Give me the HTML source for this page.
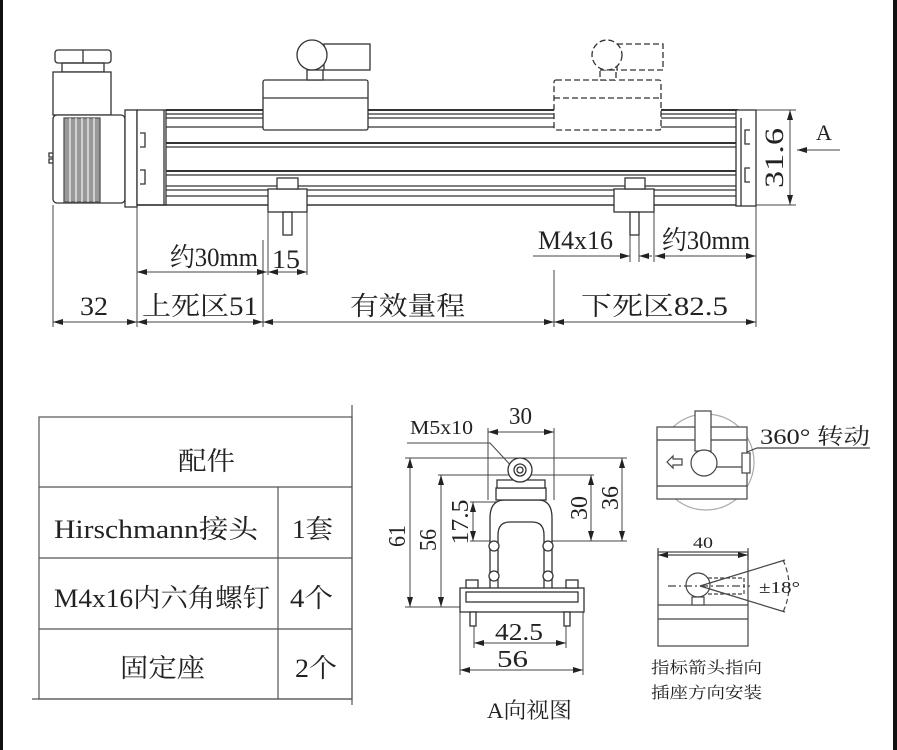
<!DOCTYPE html>
<html><head><meta charset="utf-8"><style>
html,body{margin:0;padding:0;background:#fff;width:897px;height:750px;overflow:hidden}
svg{display:block}
text{font-family:"Liberation Serif","Noto Serif CJK SC","Noto Sans CJK SC",serif;fill:#222}
</style></head><body>
<svg width="897" height="750" viewBox="0 0 897 750" xmlns="http://www.w3.org/2000/svg">
<defs>
<marker id="ar" viewBox="0 0 10 6" refX="10" refY="3" markerWidth="10" markerHeight="6" orient="auto-start-reverse" markerUnits="userSpaceOnUse"><path d="M0,0 L10,3 L0,6 z" fill="#222"/></marker>
</defs>
<rect x="0" y="0" width="3" height="750" fill="#111"/>
<rect x="893" y="0" width="4" height="750" fill="#111"/>
<g stroke="#333" stroke-width="1.3" fill="none">
<rect x="55" y="50" width="56" height="13" rx="3" fill="#fff"/>
<line x1="83" y1="50" x2="83" y2="63"/>
<rect x="62" y="63" width="42" height="9"/>
<rect x="53" y="72" width="58" height="43" fill="#fff"/>
<rect x="53" y="115" width="72" height="88" rx="4" fill="#fff"/>
<rect x="64" y="118" width="36" height="84" fill="#999" stroke="#555"/>
<line x1="70" y1="118" x2="70" y2="202" stroke="#eee"/><line x1="76" y1="118" x2="76" y2="202" stroke="#eee"/>
<line x1="82" y1="118" x2="82" y2="202" stroke="#eee"/><line x1="88" y1="118" x2="88" y2="202" stroke="#eee"/>
<line x1="94" y1="118" x2="94" y2="202" stroke="#eee"/>
<path d="M53,153 h-4 v4 h4 M53,159 h-4 v4 h4"/>
<rect x="125" y="110" width="12" height="97" fill="#fff"/>
<rect x="137" y="110" width="29" height="95" fill="#fff"/>
<path d="M140,133 h5 v14 h-5 M140,170 h5 v14 h-5"/>
<line x1="164" y1="110" x2="164" y2="205"/>
<line x1="166" y1="110" x2="738" y2="110" stroke-width="2"/>
<line x1="166" y1="114" x2="738" y2="114"/>
<line x1="166" y1="118" x2="738" y2="118"/>
<line x1="166" y1="127" x2="738" y2="127"/>
<line x1="166" y1="143" x2="738" y2="143" stroke-width="2"/>
<line x1="166" y1="147" x2="738" y2="147"/>
<line x1="166" y1="171" x2="738" y2="171" stroke-width="2"/>
<line x1="166" y1="175" x2="738" y2="175"/>
<line x1="166" y1="186" x2="738" y2="186"/>
<line x1="166" y1="190" x2="738" y2="190"/>
<line x1="166" y1="196" x2="738" y2="196"/>
<line x1="137" y1="205" x2="738" y2="205" stroke-width="1.6"/>
<rect x="736" y="110" width="20" height="96" fill="#fff"/>
<line x1="741" y1="118" x2="741" y2="206"/>
<path d="M750,130 h-5 v14 h5 M750,168 h-5 v14 h5"/>
<rect x="263" y="80" width="105" height="50" rx="2" fill="#fff"/>
<line x1="263" y1="98" x2="368" y2="98"/>
<rect x="307" y="70" width="16" height="10" fill="#fff"/>
<rect x="324" y="44" width="46" height="26" fill="#fff"/>
<circle cx="312" cy="55" r="15" fill="#fff"/>
<g stroke-dasharray="6,3">
<rect x="554" y="80" width="107" height="50" rx="2" fill="#fff"/>
<line x1="554" y1="98" x2="661" y2="98"/>
<rect x="600" y="70" width="16" height="10" fill="#fff"/>
<rect x="617" y="44" width="46" height="26" fill="#fff"/>
<circle cx="607" cy="55" r="15" fill="#fff"/>
</g>
<rect x="268" y="189" width="39" height="23" fill="#fff"/><rect x="277" y="178" width="21" height="11" fill="#fff"/><rect x="283" y="212" width="9" height="23"/>
<rect x="614" y="189" width="40" height="23" fill="#fff"/><rect x="625" y="178" width="20" height="11" fill="#fff"/><rect x="630" y="212" width="9" height="23"/>
</g>
<g stroke="#444" stroke-width="1" fill="none">
<line x1="53" y1="205" x2="53" y2="327"/>
<line x1="137" y1="207" x2="137" y2="327"/>
<line x1="263" y1="240" x2="263" y2="327"/>
<line x1="268" y1="212" x2="268" y2="275"/>
<line x1="307" y1="212" x2="307" y2="275"/>
<line x1="554" y1="270" x2="554" y2="327"/>
<line x1="756" y1="206" x2="756" y2="327"/>
<line x1="630" y1="235" x2="630" y2="262"/><line x1="639" y1="235" x2="639" y2="262"/>
<line x1="654" y1="212" x2="654" y2="262"/>
<line x1="137" y1="272" x2="267" y2="272" marker-start="url(#ar)" marker-end="url(#ar)"/>
<line x1="268" y1="272" x2="307" y2="272" marker-start="url(#ar)" marker-end="url(#ar)"/>
<line x1="533" y1="256" x2="630" y2="256" marker-end="url(#ar)"/>
<line x1="639" y1="256" x2="652" y2="256" marker-start="url(#ar)"/>
<line x1="655" y1="256" x2="756" y2="256" marker-start="url(#ar)" marker-end="url(#ar)"/>
<line x1="53" y1="322" x2="137" y2="322" marker-start="url(#ar)" marker-end="url(#ar)"/>
<line x1="137" y1="322" x2="263" y2="322" marker-start="url(#ar)" marker-end="url(#ar)"/>
<line x1="263" y1="322" x2="554" y2="322" marker-start="url(#ar)" marker-end="url(#ar)"/>
<line x1="554" y1="322" x2="756" y2="322" marker-start="url(#ar)" marker-end="url(#ar)"/>
<line x1="756" y1="110" x2="796" y2="110"/><line x1="756" y1="205" x2="796" y2="205"/>
<line x1="790" y1="110" x2="790" y2="205" marker-start="url(#ar)" marker-end="url(#ar)"/>
<line x1="840" y1="150" x2="797" y2="150" marker-end="url(#ar)"/>
</g>
<g font-size="26" lengthAdjust="spacingAndGlyphs">
<text x="170" y="266" textLength="88" lengthAdjust="spacingAndGlyphs">约30mm</text>
<text x="272" y="268" textLength="28" lengthAdjust="spacingAndGlyphs">15</text>
<text x="538" y="249" textLength="75" lengthAdjust="spacingAndGlyphs">M4x16</text>
<text x="662" y="249" textLength="88" lengthAdjust="spacingAndGlyphs">约30mm</text>
<text x="80" y="315" textLength="28" lengthAdjust="spacingAndGlyphs">32</text>
<text x="142" y="315" textLength="116" lengthAdjust="spacingAndGlyphs">上死区51</text>
<text x="350" y="315" textLength="115" lengthAdjust="spacingAndGlyphs">有效量程</text>
<text x="581" y="315" textLength="147" lengthAdjust="spacingAndGlyphs">下死区82.5</text>
<text x="816" y="140" font-size="22">A</text>
<text transform="translate(783,158) rotate(-90)" text-anchor="middle" textLength="60" lengthAdjust="spacingAndGlyphs">31.6</text>
</g>
<g stroke="#555" stroke-width="1.2" fill="none">
<rect x="39" y="417" width="313" height="282"/>
<line x1="352" y1="405" x2="352" y2="705"/><line x1="32" y1="699" x2="352" y2="699"/>
<line x1="39" y1="487" x2="352" y2="487"/><line x1="39" y1="558" x2="352" y2="558"/><line x1="39" y1="629" x2="352" y2="629"/>
<line x1="278" y1="487" x2="278" y2="699"/>
</g>
<g font-size="26">
<text x="178" y="470" textLength="57" lengthAdjust="spacingAndGlyphs">配件</text>
<text x="54" y="538" textLength="204" lengthAdjust="spacingAndGlyphs">Hirschmann接头</text>
<text x="292" y="538" textLength="41" lengthAdjust="spacingAndGlyphs">1套</text>
<text x="54" y="607" textLength="216" lengthAdjust="spacingAndGlyphs">M4x16内六角螺钉</text>
<text x="290" y="607" textLength="43" lengthAdjust="spacingAndGlyphs">4个</text>
<text x="120" y="677" textLength="85" lengthAdjust="spacingAndGlyphs">固定座</text>
<text x="295" y="677" textLength="42" lengthAdjust="spacingAndGlyphs">2个</text>
</g>
<g stroke="#444" stroke-width="1" fill="none">
<line x1="488" y1="428" x2="488" y2="500"/><line x1="554" y1="428" x2="554" y2="500"/>
<line x1="488" y1="432" x2="554" y2="432" marker-start="url(#ar)" marker-end="url(#ar)"/>
<path d="M407,443 H490 L515,470"/>
<line x1="405" y1="458" x2="627" y2="458"/>
<line x1="438" y1="475" x2="594" y2="475"/>
<line x1="470" y1="502" x2="498" y2="502"/>
<line x1="470" y1="541" x2="627" y2="541"/>
<line x1="405" y1="607" x2="480" y2="607"/>
<line x1="410" y1="458" x2="410" y2="607" marker-start="url(#ar)" marker-end="url(#ar)"/>
<line x1="441" y1="475" x2="441" y2="607" marker-start="url(#ar)" marker-end="url(#ar)"/>
<line x1="473" y1="502" x2="473" y2="541" marker-start="url(#ar)" marker-end="url(#ar)"/>
<line x1="591" y1="475" x2="591" y2="541" marker-start="url(#ar)" marker-end="url(#ar)"/>
<line x1="622" y1="458" x2="622" y2="541" marker-start="url(#ar)" marker-end="url(#ar)"/>
<line x1="474" y1="625" x2="474" y2="648"/><line x1="566" y1="625" x2="566" y2="648"/>
<line x1="460" y1="612" x2="460" y2="675"/><line x1="583" y1="612" x2="583" y2="675"/>
<line x1="474" y1="643" x2="566" y2="643" marker-start="url(#ar)" marker-end="url(#ar)"/>
<line x1="460" y1="670" x2="583" y2="670" marker-start="url(#ar)" marker-end="url(#ar)"/>
</g>
<g stroke="#333" stroke-width="1.3" fill="#fff">
<path d="M490,590 V518 Q490,500 505,500 H538 Q552,500 552,518 V590 Z"/>
<path d="M498,590 V535 Q498,522 510,522 H532 Q544,522 544,535 V590" fill="none"/>
<rect x="496" y="488" width="50" height="12"/>
<path d="M497,480 h48 v8 h-48z"/>
<circle cx="520" cy="470" r="12"/><circle cx="520" cy="470" r="6"/><circle cx="520" cy="470" r="3"/>
<rect x="460" y="588" width="124" height="24"/>
<rect x="466" y="592" width="112" height="10" fill="none"/>
<rect x="466" y="580" width="12" height="8"/><rect x="566" y="580" width="12" height="8"/>
<circle cx="494" cy="546" r="5"/><circle cx="548" cy="546" r="5"/>
<circle cx="494" cy="576" r="5"/><circle cx="548" cy="576" r="5"/>
<rect x="470" y="612" width="6" height="14"/><rect x="564" y="612" width="6" height="14"/>
</g>
<g font-size="24">
<text x="509" y="424" textLength="23" lengthAdjust="spacingAndGlyphs">30</text>
<text x="410" y="434" font-size="20" textLength="63" lengthAdjust="spacingAndGlyphs">M5x10</text>
<text transform="translate(405,536) rotate(-90)" text-anchor="middle" textLength="22" lengthAdjust="spacingAndGlyphs">61</text>
<text transform="translate(436,540) rotate(-90)" text-anchor="middle" textLength="22" lengthAdjust="spacingAndGlyphs">56</text>
<text transform="translate(468,522) rotate(-90)" text-anchor="middle" textLength="45" lengthAdjust="spacingAndGlyphs">17.5</text>
<text transform="translate(587,508) rotate(-90)" text-anchor="middle" textLength="24" lengthAdjust="spacingAndGlyphs">30</text>
<text transform="translate(618,498) rotate(-90)" text-anchor="middle" textLength="24" lengthAdjust="spacingAndGlyphs">36</text>
<text x="495" y="640" textLength="48" lengthAdjust="spacingAndGlyphs">42.5</text>
<text x="497" y="667" textLength="31" lengthAdjust="spacingAndGlyphs">56</text>
<text x="487" y="718" font-size="22" textLength="85" lengthAdjust="spacingAndGlyphs">A向视图</text>
</g>
<g stroke="#444" stroke-width="1.2" fill="none">
<circle cx="706" cy="462" r="48" stroke="#aaa"/>
<rect x="657" y="427" width="90" height="72" fill="#fff"/>
<line x1="657" y1="440" x2="747" y2="440"/><line x1="657" y1="486" x2="747" y2="486"/>
<rect x="695" y="411" width="16" height="40" fill="#fff"/>
<rect x="742" y="453" width="8" height="20" fill="#fff"/>
<line x1="706" y1="467" x2="742" y2="467"/>
<circle cx="704" cy="463" r="13" fill="#fff"/>
<path d="M667,462 l6,-6 v3 h9 v6 h-9 v3z"/>
<path d="M747,452 l10,-4 h113"/>
<rect x="658" y="552" width="90" height="94" fill="#fff"/>
<line x1="658" y1="605" x2="748" y2="605"/><line x1="658" y1="619" x2="748" y2="619"/>
<line x1="658" y1="548" x2="658" y2="560"/><line x1="748" y1="548" x2="748" y2="560"/>
<line x1="658" y1="555" x2="748" y2="555" marker-start="url(#ar)" marker-end="url(#ar)"/>
<rect x="702" y="578" width="42" height="16" fill="#fff" stroke-dasharray="4,2"/>
<circle cx="698" cy="585" r="12" fill="#fff"/>
<rect x="692" y="597" width="12" height="8" fill="#fff"/>
<line x1="668" y1="586" x2="750" y2="586" stroke-dasharray="8,3,2,3"/>
<line x1="700" y1="586" x2="785" y2="560"/><line x1="700" y1="586" x2="785" y2="612"/>
<path d="M783,560 Q795,586 783,612" stroke-dasharray="5,3"/>
</g>
<g font-size="22">
<text x="760" y="444" textLength="110" lengthAdjust="spacingAndGlyphs">360° 转动</text>
<text x="693" y="548" font-size="16" textLength="20" lengthAdjust="spacingAndGlyphs">40</text>
<text x="759" y="593" font-size="17" textLength="41" lengthAdjust="spacingAndGlyphs">±18°</text>
<text x="651" y="673" font-size="16" textLength="111" lengthAdjust="spacingAndGlyphs">指标箭头指向</text>
<text x="651" y="698" font-size="16" textLength="111" lengthAdjust="spacingAndGlyphs">插座方向安装</text>
</g>
</svg>
</body></html>
